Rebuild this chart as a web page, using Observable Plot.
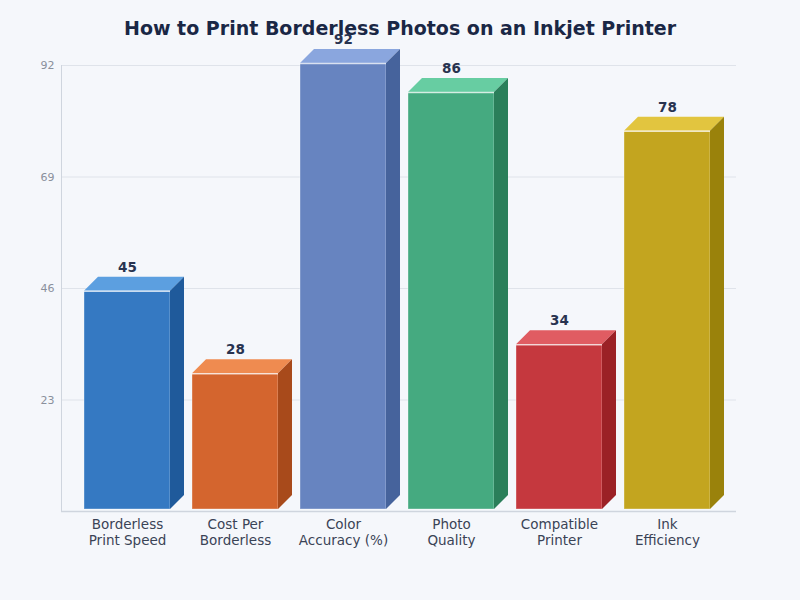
<!DOCTYPE html>
<html>
<head>
<meta charset="utf-8">
<script src="https://cdn.jsdelivr.net/npm/d3@7"></script>
<script src="https://cdn.jsdelivr.net/npm/@observablehq/plot@0.6"></script>
<style>
  html, body { margin: 0; padding: 0; background: #f5f7fb; }
  #wrap { width: 800px; height: 600px; position: relative; font-family: "DejaVu Sans", sans-serif; }
  #title { position: absolute; top: 0; left: 0; width: 800px; height: 50px; line-height: 56px; text-align: center;
           font-size: 19px; font-weight: bold; color: #1a2745; }
  #chart { position: absolute; top: 50px; left: 0; }
  #chart svg { overflow: visible; }
</style>
</head>
<body>
<div id="wrap">
  <div id="title">How to Print Borderless Photos on an Inkjet Printer</div>
  <div id="chart"></div>
</div>
<script>
const categories = ["Borderless\nPrint Speed", "Cost Per\nBorderless", "Color\nAccuracy (%)", "Photo\nQuality", "Compatible\nPrinter", "Ink\nEfficiency"];
const values = [45, 28, 92, 86, 34, 78];
const yTicks = [23, 46, 69, 92];
const frontColors = ["#3579c2", "#d4652e", "#6784c0", "#45aa80", "#c5383e", "#c3a51f"];
const topColors   = ["#5c9fe0", "#ef8b50", "#8aa6de", "#67cda2", "#e05c62", "#e2c53f"];
const sideColors  = ["#1f5a9b", "#a84a1b", "#46639c", "#2a7f5a", "#9b2126", "#9a820b"];

const data = categories.map((c, i) => ({category: c, value: values[i], front: frontColors[i], top: topColors[i], side: sideColors[i]}));
const DEPTH = 14;
const LIFT = 2;

function faces(index, scales, vals, dimensions) {
  const x = scales.x, y = scales.y;
  const bw = typeof x.bandwidth === "function" ? x.bandwidth() : 86;
  const g = d3.create("svg:g");
  const {marginLeft, marginTop, height, marginBottom} = dimensions;
  g.append("line").attr("x1", marginLeft + 0.5).attr("x2", marginLeft + 0.5)
    .attr("y1", marginTop).attr("y2", height - marginBottom)
    .attr("stroke", "#cfd5de").attr("stroke-width", 1);
  for (const d of data) {
    const x0 = x(d.category), x1 = x0 + bw, yt = y(d.value) - LIFT, yb = y(0) - LIFT;
    g.append("polygon")
      .attr("points", [[x0, yt], [x0 + DEPTH, yt - DEPTH], [x1 + DEPTH, yt - DEPTH], [x1, yt]].map(p => p.join(",")).join(" "))
      .attr("fill", d.top);
    g.append("polygon")
      .attr("points", [[x1, yt], [x1 + DEPTH, yt - DEPTH], [x1 + DEPTH, yb - DEPTH], [x1, yb]].map(p => p.join(",")).join(" "))
      .attr("fill", d.side);
    g.append("line").attr("x1", x0).attr("x2", x1).attr("y1", yt + 0.5).attr("y2", yt + 0.5)
      .attr("stroke", "#ffffff").attr("stroke-opacity", 0.7).attr("stroke-width", 1.5);
  }
  return g.node();
}

const chart = Plot.plot({
  width: 800,
  height: 550,
  marginTop: 15,
  marginBottom: 89,
  marginLeft: 61,
  marginRight: 64,
  style: {background: "transparent", fontFamily: "DejaVu Sans, sans-serif", overflow: "visible"},
  x: {domain: categories, paddingInner: 0.2, paddingOuter: 0.1, insetLeft: 11, insetRight: 14, axis: null},
  y: {domain: [0, 92], axis: null},
  marks: [
    Plot.gridY(yTicks, {stroke: "#dfe3ea", strokeOpacity: 1, strokeWidth: 1}),
    Plot.axisY(yTicks, {tickSize: 0, tickPadding: 7, fontSize: 11, fill: "#8a909c", label: null}),
    Plot.barY(data, {x: "category", y: "value", fill: "front", dy: -LIFT, stroke: "#ffffff", strokeOpacity: 0.35, strokeWidth: 1}),
    faces,
    Plot.ruleY([0], {stroke: "#cfd5de", strokeWidth: 1.5}),
    Plot.text(data, {x: "category", y: "value", text: d => String(d.value), dy: -24 - LIFT, fontSize: 13.5, fontWeight: "bold", fill: "#283350"}),
    Plot.axisX({anchor: "bottom", tickSize: 0, tickPadding: 6, fontSize: 13.5, lineHeight: 1.18, fill: "#3a4356", label: null})
  ]
});
document.getElementById("chart").appendChild(chart);
</script>
</body>
</html>
